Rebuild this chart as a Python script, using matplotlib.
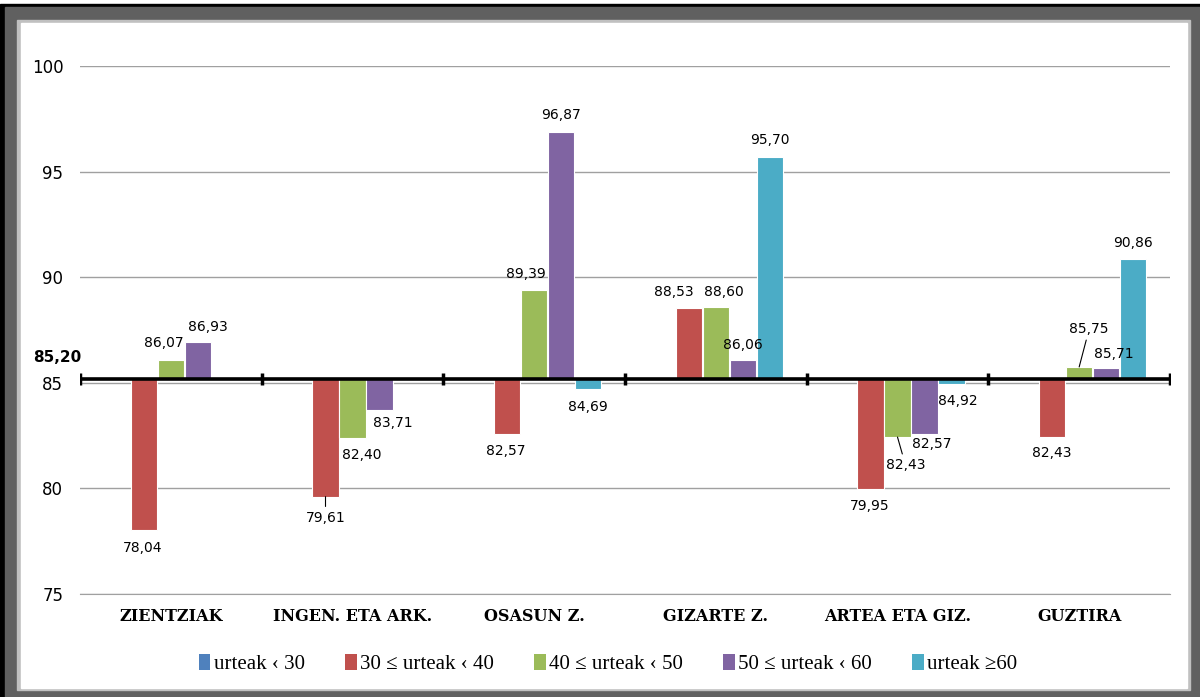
import matplotlib
matplotlib.use("Agg")
import matplotlib.pyplot as plt
import numpy as np
from matplotlib.patches import Rectangle, Patch

categories = ["ZIENTZIAK", "INGEN. ETA ARK.", "OSASUN Z.", "GIZARTE Z.", "ARTEA ETA GIZ.", "GUZTIRA"]
series_names = ["urteak ‹ 30", "30 ≤ urteak ‹ 40", "40 ≤ urteak ‹ 50", "50 ≤ urteak ‹ 60", "urteak ≥60"]
nan = np.nan
urteak_lt30 = [nan, nan, nan, nan, nan, nan]
urteak_30_40 = [78.04, 79.61, 82.57, 88.53, 79.95, 82.43]
urteak_40_50 = [86.07, 82.40, 89.39, 88.60, 82.43, 85.75]
urteak_50_60 = [86.93, 83.71, 96.87, 86.06, 82.57, 85.71]
urteak_ge60 = [nan, nan, 84.69, 95.70, 84.92, 90.86]
baseline = 85.20

series = [urteak_lt30, urteak_30_40, urteak_40_50, urteak_50_60, urteak_ge60]
colors = ["#4F81BD", "#C0504D", "#9BBB59", "#8064A2", "#4BACC6"]

# label offsets in pixels from bar end (dx, dy), and whether a leader line is drawn
label_style = {
    (0, 1): (-1, -18, False), (0, 2): (-7, 17, False), (0, 3): (10, 15, False),
    (1, 1): (0, -21, True), (1, 2): (9, -17, False), (1, 3): (13, -13, False),
    (2, 1): (-1, -17, False), (2, 2): (-8, 16, False), (2, 3): (0, 17, False), (2, 4): (0, -18, False),
    (3, 1): (-15, 16, False), (3, 2): (8, 15, False), (3, 3): (0, 15, False), (3, 4): (0, 17, False),
    (4, 1): (-1, -17, False), (4, 2): (8, -28, True), (4, 3): (7, -10, False), (4, 4): (6, -17, False),
    (5, 1): (0, -16, False), (5, 2): (10, 38, True), (5, 3): (8, 14, False), (5, 4): (0, 16, False),
}

W, H = 1200, 697
fig = plt.figure(figsize=(W / 100, H / 100), dpi=100)

# frame
def px_rect(x0, y0, x1, y1, color):
    fig.patches.append(Rectangle((x0 / W, 1 - y1 / H), (x1 - x0) / W, (y1 - y0) / H,
                                 transform=fig.transFigure, color=color, zorder=-10))

px_rect(0, 4, 1200, 697, "black")
px_rect(5, 7, 1200, 697, "#606060")
px_rect(17, 20, 1190, 690, "#c0c0c0")
px_rect(21, 23, 1187, 688, "white")

ax = fig.add_axes([80 / W, 1 - 594 / H, 1090 / W, 528 / H])
ax.set_facecolor("none")
x = np.arange(len(categories))
step = 0.1486
width = 0.145
for i, vals in enumerate(series):
    v = np.array(vals)
    ax.bar(x + (i - 2) * step, v - baseline, width, bottom=baseline, color=colors[i],
           edgecolor="white", linewidth=0.8, zorder=3)

for (c, i), (dx, dy, leader) in label_style.items():
    v = series[i][c]
    xb = x[c] + (i - 2) * step
    txt = f"{v:.2f}".replace(".", ",")
    kw = {}
    if leader:
        kw["arrowprops"] = dict(arrowstyle="-", color="black", lw=0.8, shrinkA=1, shrinkB=0)
    ax.annotate(txt, (xb, v), xytext=(dx, dy), textcoords="offset pixels",
                ha="center", va="center", fontsize=10, color="black", zorder=5, **kw)

# reference line at the overall average
ax.plot([-0.5, 5.5], [baseline, baseline], color="black", lw=2.6, zorder=4, solid_capstyle="butt")
bounds = np.arange(-0.5, 6.0, 1.0)
ax.plot(bounds, [baseline] * len(bounds), ls="none", marker="|", ms=9, mew=2.5, color="black", zorder=4)
fig.text(57 / W, 1 - 357 / H, "85,20", ha="center", va="center", fontsize=11, fontweight="bold")

ax.set_xlim(-0.5, 5.5)
ax.set_ylim(75, 100)
ax.set_yticks([75, 80, 85, 90, 95, 100])
ax.yaxis.grid(True, color="#a0a0a0", lw=1, zorder=0)
ax.tick_params(axis="y", length=0, pad=12, labelsize=12)
ax.set_xticks(x)
ax.set_xticklabels(categories, fontfamily="DejaVu Serif", fontweight="bold", fontsize=11.5)
ax.tick_params(axis="x", length=0, pad=10)
for s in ("top", "right", "left"):
    ax.spines[s].set_visible(False)
ax.spines["bottom"].set_color("#a0a0a0")

handles = [Patch(facecolor=c, edgecolor="none") for c in colors]
fig.legend(handles, series_names, loc="center", bbox_to_anchor=(608 / W, 1 - 664 / H), ncol=5,
           frameon=False, handlelength=0.55, handleheight=0.8, handletextpad=0.15, columnspacing=1.95,
           prop={"family": "Liberation Serif", "size": 15})

fig.savefig("out.png", dpi=100)
